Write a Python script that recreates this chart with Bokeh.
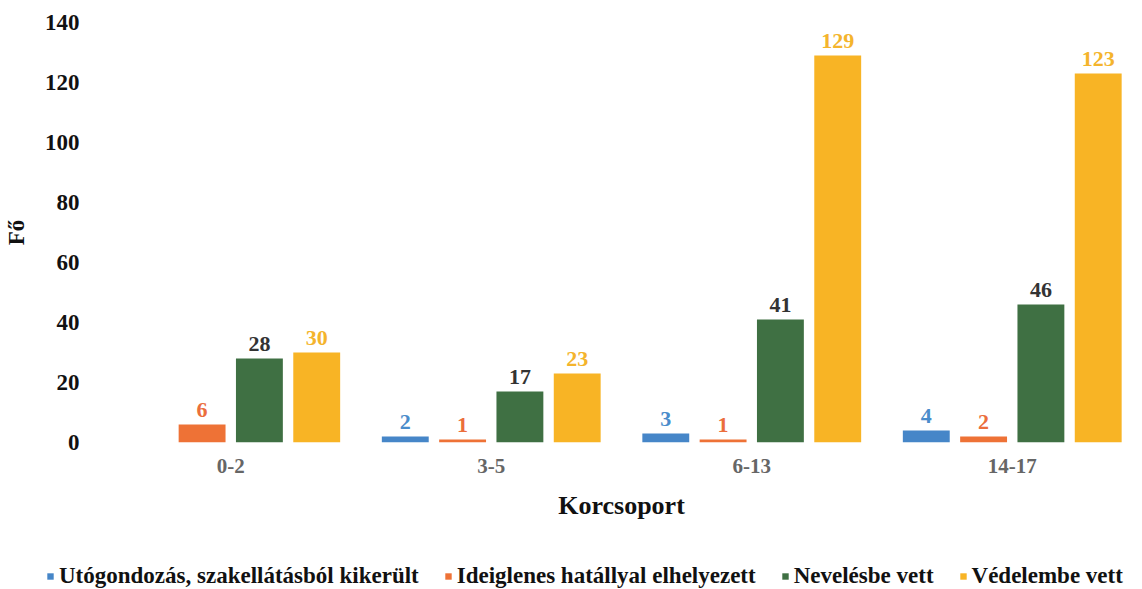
from bokeh.plotting import figure
from bokeh.models import ColumnDataSource, Range1d, Legend, LegendItem
from bokeh.transform import dodge
from bokeh.core.properties import value
from bokeh.embed import file_html
from bokeh.resources import INLINE

categories = ["0-2", "3-5", "6-13", "14-17"]
series_names = [
    "Utógondozás, szakellátásból kikerült",
    "Ideiglenes hatállyal elhelyezett",
    "Nevelésbe vett",
    "Védelembe vett",
]
utogondozas = [0, 2, 3, 4]
ideiglenes = [6, 1, 1, 2]
nevelesbe = [28, 17, 41, 46]
vedelembe = [30, 23, 129, 123]
y_ticks = [0, 20, 40, 60, 80, 100, 120, 140]

series_values = [utogondozas, ideiglenes, nevelesbe, vedelembe]
bar_colors = ["#4686C8", "#EE7236", "#3F7043", "#F8B425"]
label_colors = ["#4A8CCB", "#EB6E3C", "#333333", "#F4B42C"]
offsets = [-0.33, -0.11, 0.11, 0.33]

FONT = "Liberation Serif"
W = 1142

p = figure(
    x_range=categories,
    y_range=Range1d(0, 140),
    width=W,
    height=562,
    output_backend="svg",
    toolbar_location=None,
    min_border_left=96,
    min_border_right=0,
    min_border_top=22,
    min_border_bottom=120,
)
p.outline_line_color = None
p.xgrid.grid_line_color = None
p.ygrid.grid_line_color = None

renderers = []
for vals, col, lcol, off in zip(series_values, bar_colors, label_colors, offsets):
    src = ColumnDataSource(dict(
        x=categories,
        y=vals,
        label=[str(v) if v > 0 else "" for v in vals],
    ))
    r = p.vbar(x=dodge("x", off, range=p.x_range), top="y", width=0.18,
               source=src, fill_color=col, line_color=None)
    renderers.append(r)
    p.text(x=dodge("x", off, range=p.x_range), y="y", text="label", source=src,
           text_align="center", text_baseline="bottom", y_offset=-8,
           text_font=value(FONT), text_font_style="bold", text_font_size="22px",
           text_color=lcol)

p.yaxis.ticker = y_ticks
p.yaxis.axis_line_color = None
p.yaxis.major_tick_line_color = None
p.yaxis.minor_tick_line_color = None
p.yaxis.major_label_text_font = FONT
p.yaxis.major_label_text_font_style = "bold"
p.yaxis.major_label_text_font_size = "23px"
p.yaxis.major_label_text_color = "#111111"
p.yaxis.major_label_standoff = 15
p.yaxis.axis_label = "Fő"
p.yaxis.axis_label_text_font = FONT
p.yaxis.axis_label_text_font_style = "bold"
p.yaxis.axis_label_text_font_size = "23px"
p.yaxis.axis_label_text_color = "#111111"
p.yaxis.axis_label_standoff = 13

p.xaxis.axis_line_color = None
p.xaxis.major_tick_line_color = None
p.xaxis.minor_tick_line_color = None
p.xaxis.major_label_text_font = FONT
p.xaxis.major_label_text_font_style = "bold"
p.xaxis.major_label_text_font_size = "21px"
p.xaxis.major_label_text_color = "#666666"
p.xaxis.major_label_standoff = 10
p.xaxis.axis_label = "Korcsoport"
p.xaxis.axis_label_text_font = FONT
p.xaxis.axis_label_text_font_style = "bold"
p.xaxis.axis_label_text_font_size = "26px"
p.xaxis.axis_label_text_color = "#111111"
p.xaxis.axis_label_standoff = 15

# legend strip below the chart (separate root, so its frame spans the full width)
lg = figure(
    width=W,
    height=27,
    x_range=Range1d(0, 1),
    y_range=Range1d(0, 1),
    output_backend="svg",
    toolbar_location=None,
    min_border=0,
)
lg.axis.visible = False
lg.grid.visible = False
lg.outline_line_color = None
dummy = []
for col in bar_colors:
    dummy.append(lg.vbar(x=[-10], top=[-10], width=0.1, fill_color=col, line_color=None))

legend = Legend(
    items=[LegendItem(label=n, renderers=[r]) for n, r in zip(series_names, dummy)],
    orientation="horizontal",
    location=(46, 0),
    label_text_font=FONT,
    label_text_font_style="bold",
    label_text_font_size="23px",
    label_text_color="#111111",
    glyph_width=8,
    glyph_height=8,
    label_standoff=5,
    spacing=25,
    border_line_color=None,
    background_fill_alpha=0,
    margin=0,
    padding=1,
)
lg.add_layout(legend, "center")

open("out.html", "w").write(file_html([p, lg], INLINE))
